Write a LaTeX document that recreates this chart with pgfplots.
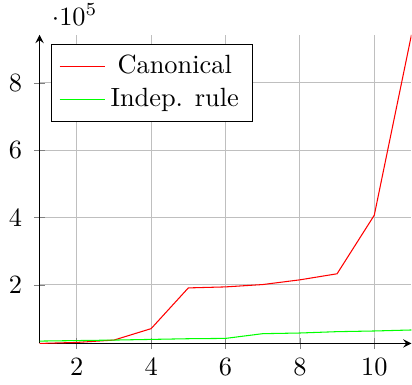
\documentclass[border=0pt]{standalone}
\usepackage{pgfplots}
\pgfplotsset{compat=1.18}
\begin{document}
\begin{tikzpicture}
\begin{axis}[
  scale only axis,
  width=141pt, height=117pt,
  axis lines=left,
  grid=major,
  xmin=1, xmax=11,
  xtick={2,4,6,8,10},
  ytick={200000,400000,600000,800000},
  legend pos=north west,
  legend cell align=center,
  yticklabel style={xshift=-1pt},
  every y tick scale label/.append style={xshift=2.5pt, yshift=0pt, text height=9.5pt},
]
\addplot[color=red] coordinates {(1,26000) (2,29000) (3,36000) (4,70000) (5,191000) (6,194000) (7,201000) (8,215000) (9,233000) (10,407000) (11,943000)};
\addlegendentry{Canonical}
\addplot[color=green] coordinates {(1,33000) (2,34500) (3,36000) (4,38000) (5,40000) (6,41000) (7,55000) (8,57000) (9,61000) (10,63000) (11,66000)};
\addlegendentry{Indep. rule}
\end{axis}
\end{tikzpicture}
\end{document}
